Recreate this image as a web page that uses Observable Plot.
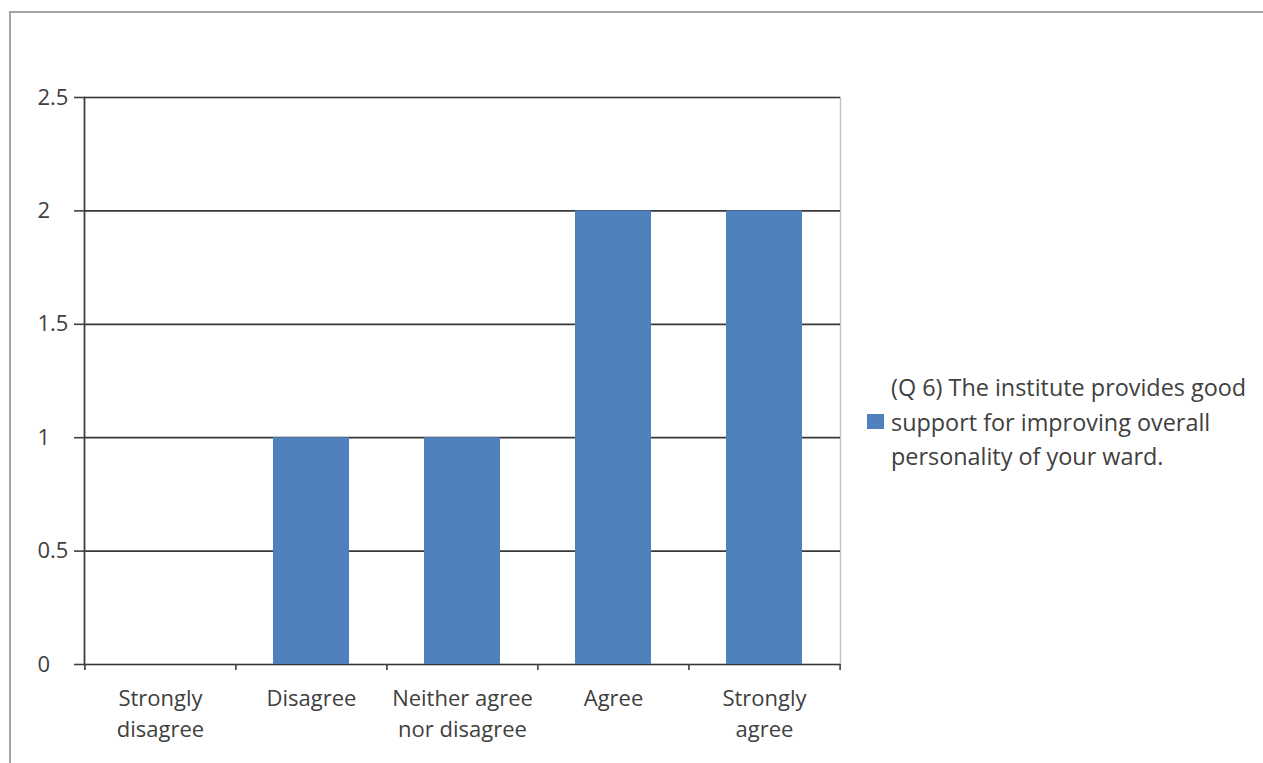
<!DOCTYPE html>
<html>
<head>
<meta charset="utf-8">
<script src="https://cdn.jsdelivr.net/npm/d3@7"></script>
<script src="https://cdn.jsdelivr.net/npm/@observablehq/plot@0.6"></script>
<style>
  body { margin: 0; background: #fff; }
  #wrap { position: relative; width: 1263px; height: 763px; overflow: hidden; font-family: "Open Sans", sans-serif; color: #404040; }
  #frame { position: absolute; left: 9px; top: 11px; width: 1300px; height: 800px; border-left: 2.5px solid #a4a4a4; border-top: 2.5px solid #a4a4a4; }
  #chart { position: absolute; left: 0; top: 0; }
  #legend { position: absolute; left: 867px; top: 370px; display: flex; align-items: center; }
  #legend .sw { width: 17px; height: 15px; background: #4f81bd; margin-right: 7px; flex: none; }
  #legend .tx { font-size: 23.4px; line-height: 34.5px; width: 390px; color: #404040; white-space: nowrap; }
</style>
</head>
<body>
<div id="wrap">
  <div id="frame"></div>
  <div id="chart"></div>
  <div id="legend"><div class="sw"></div><div class="tx" id="legendText"></div></div>
</div>
<script>
const categories = ["Strongly disagree", "Disagree", "Neither agree nor disagree", "Agree", "Strongly agree"];
const categoryLabels = ["Strongly\ndisagree", "Disagree", "Neither agree\nnor disagree", "Agree", "Strongly\nagree"];
const values = [0, 1, 1, 2, 2];
const yTicks = [0, 0.5, 1, 1.5, 2, 2.5];
const seriesLines = ["(Q 6) The institute provides good", "support for improving overall", "personality of your ward."];

const data = categories.map((c, i) => ({category: c, value: values[i]}));

const W = 1263, H = 763;
const mL = 84, mR = 423, mT = 97, mB = 99;
const step = (W - mL - mR) / categories.length;

const chart = Plot.plot({
  width: W,
  height: H,
  marginLeft: mL,
  marginRight: mR,
  marginTop: mT,
  marginBottom: mB,
  style: {fontFamily: "'Open Sans', sans-serif", fontSize: "22px", color: "#404040", background: "transparent"},
  x: {domain: categories, paddingInner: 0.5, paddingOuter: 0.25, align: 0.5, axis: null, label: null},
  y: {domain: [0, 2.5], axis: null, label: null},
  marks: [
    Plot.frame({stroke: "#c4c4c4", strokeWidth: 1.5}),
    Plot.ruleY(yTicks, {stroke: "#383838", strokeWidth: 1.7}),
    Plot.barY(data, {x: "category", y: "value", fill: "#4f81bd"}),
    Plot.frame({anchor: "left", stroke: "#404040", strokeWidth: 1.7}),
    Plot.axisY({ticks: yTicks, tickSize: 10, tickPadding: 37, textAnchor: "start", strokeWidth: 1.6, label: null, tickFormat: d => String(d)}),
    Plot.axisX({tickSize: 6, text: null, dx: -step / 2, strokeWidth: 1.6, label: null}),
    Plot.axisX({ticks: [categories[categories.length - 1]], tickSize: 6, text: null, dx: step / 2, strokeWidth: 1.6, label: null}),
    Plot.axisX({tickSize: 0, tickPadding: 19, lineHeight: 1.42, label: null, tickFormat: (d) => categoryLabels[categories.indexOf(d)]})
  ]
});
document.getElementById("chart").appendChild(chart);
document.getElementById("legendText").innerHTML = seriesLines.map(s => s.replace(/&/g, "&amp;")).join("<br>");
</script>
</body>
</html>
